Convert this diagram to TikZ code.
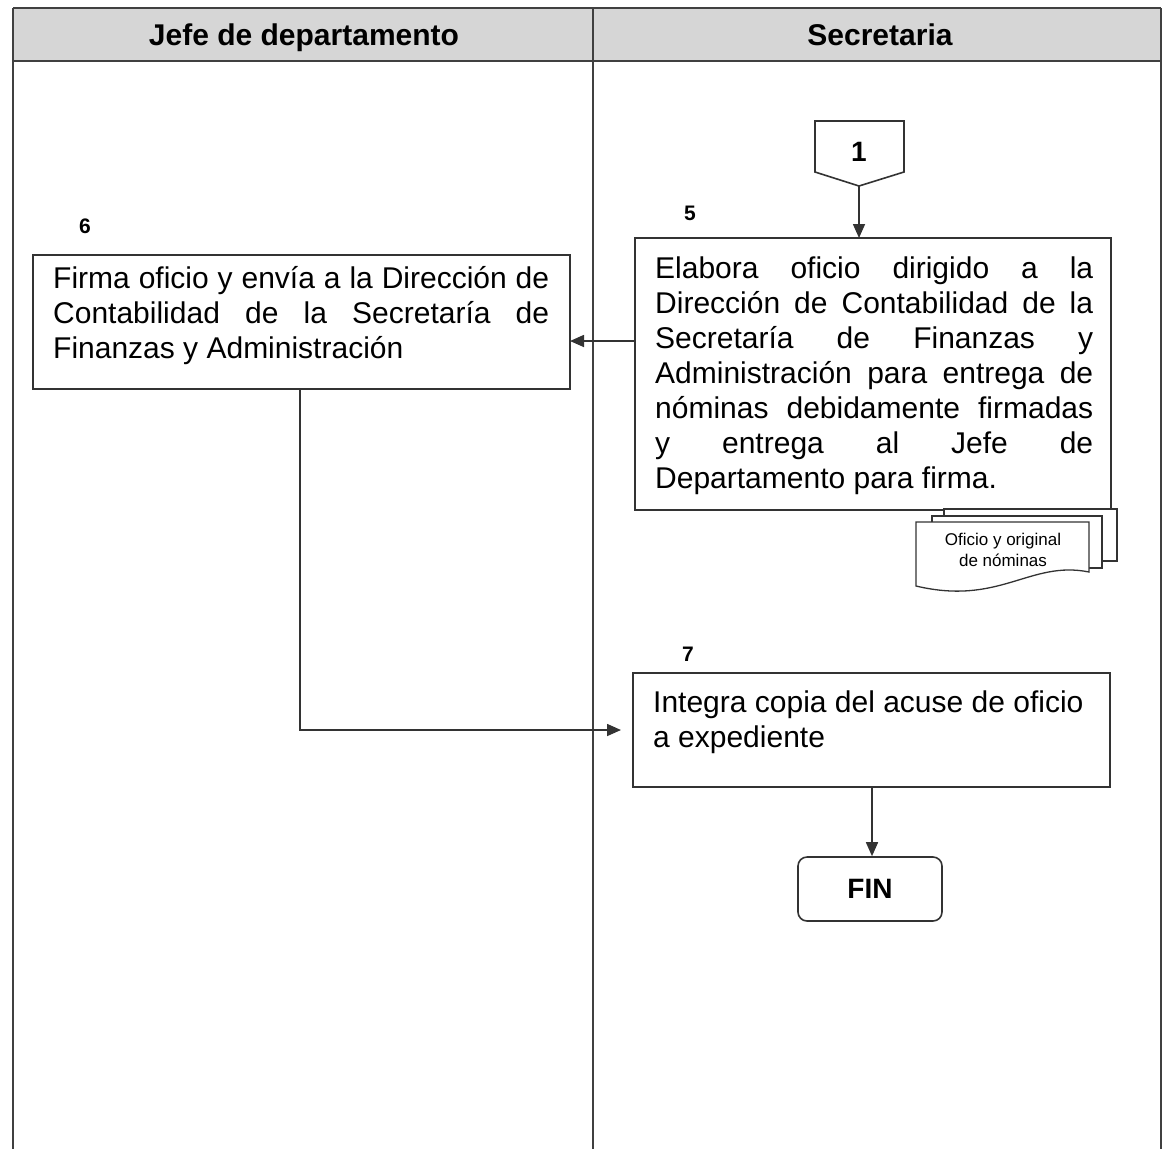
\documentclass[tikz,border=0pt]{standalone}
\usepackage{fontspec}
\setmainfont{Liberation Sans}
\usetikzlibrary{arrows.meta}
% justified line of a fixed width
\newcommand{\jl}[2]{\makebox[#1][s]{#2}}
\begin{document}
\begin{tikzpicture}[x=1pt,y=-1pt,
  lane/.style={draw=black!75,line width=1.6pt},
  procbox/.style={draw=black!80,line width=1.6pt,fill=white},
  bodytext/.style={inner sep=0pt,anchor=north west,align=left,font=\fontsize{30}{35}\selectfont},
  stepnum/.style={inner sep=0pt,font=\bfseries\fontsize{21}{24}\selectfont},
  headtext/.style={inner sep=0pt,anchor=base,font=\bfseries\fontsize{30}{32}\selectfont},
  flow/.style={draw=black!80,line width=1.6pt,-{Triangle[length=14pt,width=12pt]}},
  doc/.style={draw=black!80,line width=1.3pt,fill=white}]
% page size
\useasboundingbox (0,0) rectangle (1164,1149);
\fill[white] (0,0) rectangle (1164,1149);
% swimlane header
\fill[black!16] (13,8) rectangle (1161,61);
\draw[lane] (13,8) -- (1161,8);
\draw[lane] (13,61) -- (1161,61);
\draw[lane] (13,8) -- (13,1149);
\draw[lane] (593,8) -- (593,1149);
\draw[lane] (1161,8) -- (1161,1149);
\node[headtext] (h1) at (304,45) {Jefe de departamento};
\node[headtext] (h2) at (880,45) {Secretaria};

% off-page connector 1
\draw[procbox] (815,121) -- (904,121) -- (904,172) -- (859,186) -- (815,172) -- cycle;
\node[font=\bfseries\fontsize{28}{30}\selectfont] (c1) at (859,152) {1};
\coordinate (c1tip) at (859,186);

% step 5
\node[stepnum] (n5) at (690,213) {5};
\draw[procbox] (635,238) rectangle (1111,510);
\coordinate (b5n) at (859,238);
\coordinate (b5w) at (635,341);
\node[bodytext] (t5) at (655,256) {\rule{0pt}{22pt}\jl{438pt}{Elabora oficio dirigido a la}\\
\jl{438pt}{Dirección de Contabilidad de la}\\
\jl{438pt}{Secretaría de Finanzas y}\\
\jl{438pt}{Administración para entrega de}\\
\jl{438pt}{nóminas debidamente firmadas}\\
\jl{438pt}{y entrega al Jefe de}\\
Departamento para firma.};

% documents produced by step 5
\draw[doc] (944,516) -- (944,509) -- (1117,509) -- (1117,561) -- (1102,561);
\draw[doc] (932,522) -- (932,516) -- (1102,516) -- (1102,568) -- (1089,568);
\draw[doc] (916,586) -- (916,522) -- (1089,522) -- (1089,572)
  .. controls (1030,560) and (1000,606) .. (916,586) -- cycle;
\node[align=center,inner sep=0pt,font=\fontsize{17}{20.5}\selectfont] (d5) at (1003,550) {Oficio y original\\de nóminas};

% step 6
\node[stepnum] (n6) at (85,226) {6};
\draw[procbox] (33,255) rectangle (570,389);
\coordinate (b6e) at (570,341);
\coordinate (b6s) at (300,389);
\node[bodytext] (t6) at (53,266) {\rule{0pt}{22pt}\jl{496pt}{Firma oficio y envía a la Dirección de}\\
\jl{496pt}{Contabilidad de la Secretaría de}\\
Finanzas y Administración};

% step 7
\node[stepnum] (n7) at (688,654) {7};
\draw[procbox] (633,673) rectangle (1110,787);
\coordinate (b7w) at (633,730);
\coordinate (b7s) at (872,787);
\node[bodytext] (t7) at (653,690) {\rule{0pt}{22pt}Integra copia del acuse de oficio\\
a expediente};

% end terminator
\node[draw=black!80,line width=1.6pt,rounded corners=9pt,minimum width=144pt,minimum height=64pt,
  font=\bfseries\fontsize{28}{30}\selectfont] (fin) at (870,889) {FIN};

% connectors
\draw[flow] (c1tip) -- (b5n);
\draw[flow] (b5w) -- (b6e);
\draw[flow,shorten >=12pt] (b6s) |- (b7w);
\draw[flow] (b7s) -- (fin.north -| b7s);
\end{tikzpicture}
\end{document}
